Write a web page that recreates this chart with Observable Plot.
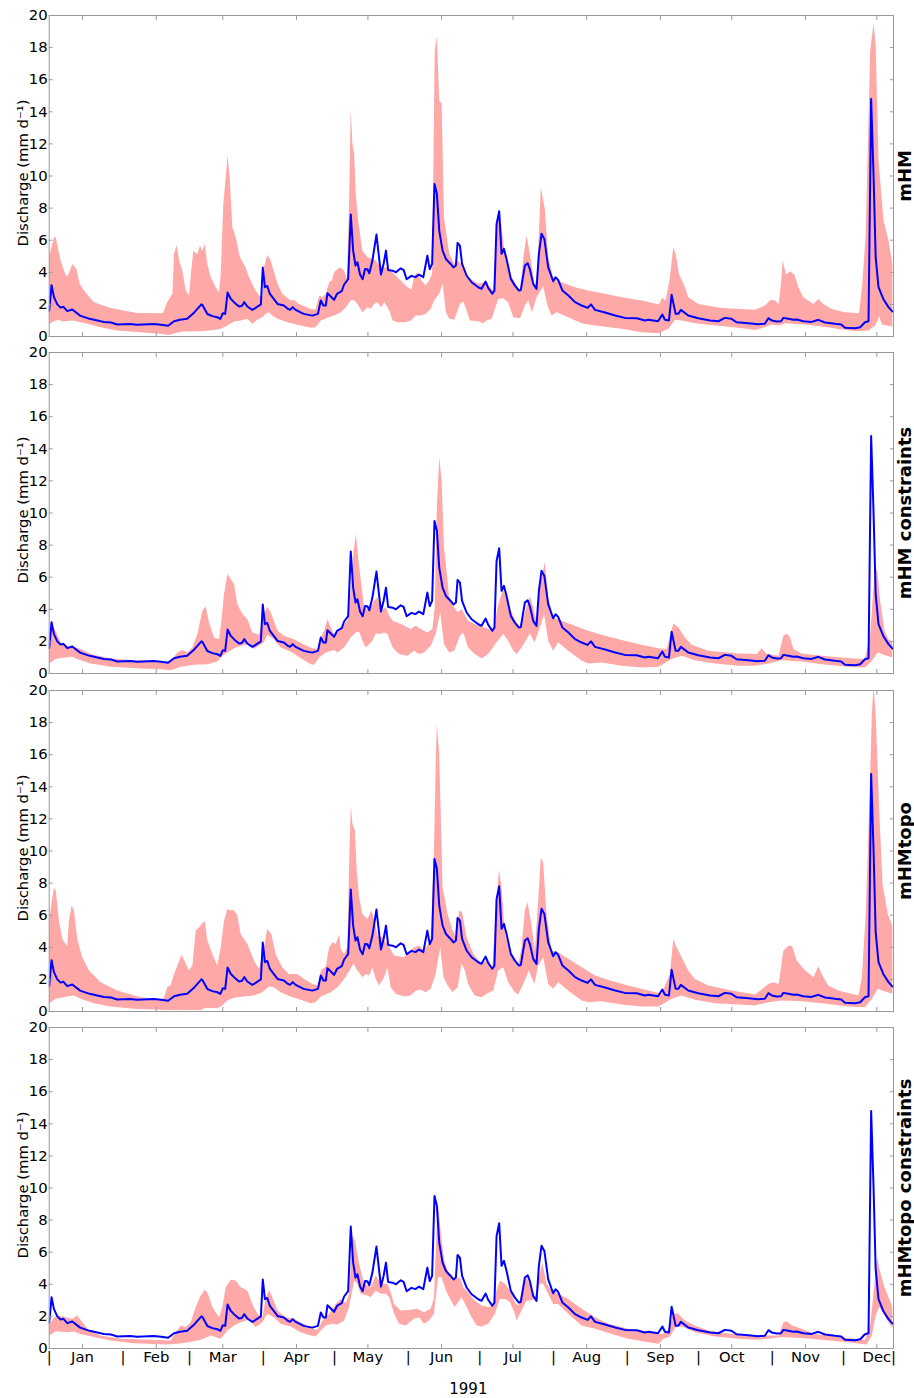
<!DOCTYPE html>
<html><head><meta charset="utf-8">
<script src="https://cdn.jsdelivr.net/npm/d3@7"></script>
<script src="https://cdn.jsdelivr.net/npm/@observablehq/plot@0.6"></script>
<style>
body{margin:0;background:#fff;}
#chart{position:relative;width:914px;height:1398px;background:#fff;}
#chart svg{position:absolute;left:0;overflow:visible;}
</style></head><body><div id="chart"></div>
<script>
// observed discharge, [day of 1991 (0 = 1 Jan), mm/d]
const observed = [[0,1.6],[1,3.2],[2,2.45],[3.4,2.0],[4.8,1.8],[6,1.85],[7.6,1.58],[9.7,1.68],[13,1.3],[17,1.1],[23,0.9],[26,0.87],[28.6,0.75],[34,0.78],[37,0.73],[44,0.78],[47,0.73],[50,0.67],[52.5,0.95],[55,1.04],[58,1.1],[61,1.5],[64,2.0],[64.5,1.95],[66.5,1.4],[68.6,1.27],[70.7,1.2],[72,1.1],[73,1.45],[74,1.41],[75,2.74],[76.3,2.35],[77.7,2.14],[79.8,1.87],[81,1.9],[82,2.14],[83.3,1.87],[85.4,1.66],[86.8,1.78],[89,2.0],[89.8,4.3],[90.7,3.07],[91.7,3.15],[92.8,2.65],[96,2.03],[98.7,1.93],[100.4,1.72],[101.3,1.66],[102.4,1.83],[103.6,1.66],[107,1.41],[110.6,1.3],[113,1.41],[114.2,2.24],[115.3,1.93],[116.3,1.93],[117,2.7],[118.4,2.49],[119.8,2.28],[121,2.65],[123,2.82],[124,3.24],[125.7,3.57],[126.8,7.6],[127.8,5.35],[128.8,4.42],[129.6,4.63],[130.7,3.86],[131.8,3.57],[132.8,4.2],[133.8,4.19],[134.6,3.94],[135.9,4.73],[137.6,6.35],[139.5,3.86],[140.6,4.52],[141.6,5.35],[142.5,4.15],[144.4,4.1],[145.8,4.0],[147.8,4.25],[149,4.15],[150.3,3.57],[152.3,3.78],[154,3.7],[155.5,3.86],[157.3,3.7],[159,5.04],[160,4.2],[161,4.52],[162,9.5],[163,8.9],[164,6.6],[165.4,5.35],[166.8,4.83],[168.8,4.52],[170,4.3],[171,4.42],[171.7,5.83],[172.7,5.66],[173.6,4.52],[175.5,3.8],[177.6,3.38],[180.4,3.07],[181.8,2.97],[183.5,3.42],[184.6,3.03],[186.3,2.66],[187.2,2.86],[188.1,7.0],[189.2,7.8],[190.2,5.15],[191.2,5.46],[192.3,4.83],[194.1,3.59],[195.8,3.17],[197.5,2.86],[198.3,2.9],[200,4.42],[201.2,4.56],[202.1,4.2],[203.5,3.28],[204.9,2.97],[205.9,5.15],[207,6.4],[208.2,6.08],[209.8,4.32],[211.9,3.44],[212.9,3.69],[214,3.53],[215.8,2.86],[218.3,2.55],[221.1,2.14],[223.9,1.93],[226.4,1.78],[227.8,2.0],[229.5,1.66],[233.7,1.49],[238,1.31],[242,1.16],[247,1.14],[250.5,1.0],[252,1.04],[256,0.95],[257.8,1.37],[258.9,1.04],[260.6,1.0],[261.7,2.6],[263.4,1.41],[264.5,1.41],[265.6,1.66],[268.7,1.31],[272.9,1.14],[277.9,1.0],[281.4,0.95],[284.1,1.16],[286.9,1.1],[289,0.89],[294,0.83],[298,0.77],[300.9,0.79],[302.4,1.14],[303.8,1.0],[305.9,0.93],[307.7,0.95],[308.7,1.16],[310.8,1.1],[312.9,1.04],[314.3,1.06],[317.1,0.95],[320.6,0.91],[323.4,1.04],[326.2,0.87],[330.4,0.79],[333,0.75],[334.6,0.54],[338.9,0.52],[341,0.58],[343,0.89],[344.5,0.95],[345.6,14.8],[346.6,10.1],[347.5,4.94],[348.7,3.07],[350.7,2.34],[352.9,1.83],[354.5,1.56]];

// ensemble envelopes: upper and lower bounds per model set
const mhmHi = [[0,5.0],[2,6.2],[2.8,6.15],[4.8,4.73],[6.9,3.8],[7.9,3.8],[9.7,4.52],[11.5,4.2],[12.8,3.28],[14.6,2.86],[18.8,2.14],[25.8,1.78],[37,1.47],[47.8,1.45],[49.6,2.14],[51.8,2.66],[52.5,5.15],[53.6,5.7],[54.6,4.73],[56,4.1],[57.4,2.86],[58.8,2.55],[59.7,4.1],[60.6,5.35],[61.6,5.2],[62.3,5.15],[63.4,5.66],[64.4,5.35],[65.4,5.8],[66.5,4.52],[67.9,3.69],[70,3.07],[71.4,2.76],[72.1,3.9],[73.2,8.26],[74.2,9.9],[75,11.3],[75.9,9.9],[77,6.8],[78.4,6.2],[80.2,4.94],[82.6,4.3],[84,3.69],[86,3.07],[88.2,2.55],[89.6,2.45],[90.3,4.3],[91.7,5.1],[93.1,4.73],[96,3.28],[98,2.66],[101.5,2.24],[103,2.28],[105,2.03],[110,1.72],[112,1.68],[113.5,2.55],[114.9,2.45],[116.3,2.66],[117.7,3.38],[118.8,3.49],[119.8,4.0],[121.2,4.2],[122.6,4.3],[124,4.1],[125.2,3.59],[126.1,8.46],[126.8,14.2],[127.5,12.0],[128.2,11.4],[128.9,8.9],[129.9,7.2],[131.7,5.35],[133.8,4.94],[135.9,4.83],[137.3,4.73],[139.5,4.3],[142.2,4.3],[145,3.9],[147.8,3.49],[150.6,3.07],[152.3,2.93],[153.4,3.7],[154.8,4.0],[156.5,3.49],[158.3,3.17],[159.7,3.49],[161,3.9],[162.1,17.8],[163,18.7],[164,14.7],[165,14.5],[166,7.4],[168.2,5.15],[170.3,4.52],[171.7,4.73],[173.4,4.52],[176.1,3.69],[180.4,3.28],[183.2,3.38],[186.7,2.86],[188.1,6.8],[189.5,7.63],[191.6,5.15],[194.4,3.69],[198,2.86],[199.4,4.94],[200.7,6.29],[202.1,5.15],[204.2,3.07],[205.3,4.32],[206.7,9.3],[208.4,7.95],[209.8,4.94],[211.9,3.69],[215.4,3.38],[221,3.07],[226.6,2.86],[233.7,2.66],[240.7,2.45],[249.1,2.24],[256.4,1.99],[257.8,2.41],[259.2,2.24],[261,3.69],[262.4,5.56],[263.4,5.15],[264.8,3.9],[267.3,3.07],[268.7,2.45],[272.9,2.03],[282.8,1.78],[296.8,1.66],[301,1.93],[303.2,2.28],[305.3,2.24],[306.7,2.03],[307.7,3.28],[308.4,4.73],[309.8,3.86],[311.5,4.07],[313.3,3.86],[315,3.07],[317.1,2.45],[321.3,2.03],[323.4,2.34],[325.5,2.03],[329,1.72],[334.6,1.51],[340.5,1.45],[341.9,3.28],[343.3,6.39],[345.2,17.8],[346.6,19.5],[347.5,18.2],[348.7,10.95],[350.8,7.22],[352.9,5.98],[354.5,4.52]];
const mhmLo = [[0,0.79],[2,0.95],[4,1.04],[5.5,0.93],[9.7,1.0],[11.8,0.93],[16,0.79],[21.6,0.58],[28.6,0.37],[38.4,0.27],[46.8,0.17],[50.4,0.1],[53.9,0.25],[56,0.31],[63.7,0.33],[69.3,0.41],[72.1,0.48],[74.9,0.68],[77.7,0.93],[80.5,1.0],[83.3,1.1],[85.4,0.79],[87.5,1.04],[89.6,1.2],[91,1.41],[92.4,1.51],[93.8,1.31],[96,1.1],[100.1,0.89],[105.7,0.68],[110,0.54],[112,0.58],[114.2,1.0],[117.7,1.2],[119.8,1.31],[122.6,1.51],[124.7,1.83],[126.8,2.24],[128.2,2.28],[129.6,2.03],[131.7,1.51],[133.8,1.83],[135.2,1.72],[136.6,2.03],[138,2.14],[139.5,1.83],[140.9,2.14],[143,1.62],[144.4,1.0],[146.5,0.89],[150,0.89],[152.1,1.0],[154.1,1.31],[156.3,1.31],[158.3,1.41],[160.4,1.72],[161.8,2.24],[164,2.66],[165.4,3.28],[166.8,1.51],[168.2,1.1],[170.3,1.04],[172.7,2.03],[174.1,2.18],[175.5,1.62],[176.9,1.0],[180.4,0.95],[182.5,0.83],[183.9,1.0],[186,1.1],[188.8,2.34],[190.9,2.39],[193,2.14],[195.1,1.2],[198,1.14],[200,1.93],[201.4,2.24],[203,1.51],[204.9,2.45],[207.7,3.11],[209.5,1.93],[211.2,1.31],[213.3,1.51],[218.2,1.2],[223.9,0.83],[229.5,0.68],[240.7,0.48],[249.1,0.27],[256.2,0.21],[260.4,0.48],[263.1,1.04],[265.9,1.0],[271.5,0.83],[280,0.68],[289.8,0.54],[296.8,0.41],[301,0.58],[303.8,0.75],[306.7,0.68],[309.4,0.83],[317.8,0.75],[324.8,0.62],[338.9,0.33],[344.5,0.37],[347.3,0.68],[349,1.24],[350.1,0.75],[354.5,0.62]];

const conHi = [[0,2.46],[1.3,2.98],[2.7,2.66],[4.8,1.94],[7.6,1.73],[9.7,1.66],[13.2,1.52],[17.4,1.21],[25.8,0.94],[35.6,0.83],[49.6,0.75],[51.8,0.9],[53.9,1.31],[56,1.46],[58,1.31],[60.2,1.62],[62.3,2.46],[64.4,3.91],[65.8,4.18],[67.2,3.18],[69.3,2.25],[71.4,2.14],[72.4,3.29],[73.5,4.95],[74.9,6.2],[76.3,5.89],[77.7,5.58],[79.1,4.33],[81.2,3.7],[83.3,3.39],[85.4,2.56],[88.2,2.41],[90.3,3.7],[91.7,4.18],[93.1,3.81],[96,2.66],[98.7,2.35],[102.9,2.14],[107.2,1.79],[110.7,1.58],[113,1.52],[114.2,2.25],[115.6,2.66],[117,3.39],[118.4,2.87],[119.8,2.46],[122.6,2.87],[125.4,3.29],[126.8,5.16],[127.9,7.45],[128.9,8.7],[129.9,7.24],[131,5.79],[132.4,4.12],[134.5,3.91],[136.6,4.54],[138,4.75],[139.4,3.91],[141.5,4.12],[143,3.6],[144.4,3.29],[147.8,3.08],[152,2.77],[154.1,2.98],[156.2,2.77],[159,2.56],[161.1,2.77],[162.1,4.12],[163,10.4],[164,13.5],[165,12.0],[166,7.87],[168.2,4.75],[170.3,4.12],[171.7,3.81],[173.4,4.0],[176.1,3.29],[180.4,2.98],[183.2,2.87],[186.7,2.66],[188.8,4.33],[190.9,5.27],[193,4.33],[195.8,3.29],[198,2.87],[199.4,3.5],[202.1,4.79],[203.5,4.12],[204.9,3.18],[206.7,5.79],[208.4,6.93],[209.8,4.75],[211.9,3.5],[215.4,3.29],[221,2.98],[226.6,2.66],[233.7,2.35],[240.7,2.08],[249.1,1.79],[256.2,1.58],[259.6,1.52],[262.4,3.12],[264.6,2.87],[267.3,2.25],[270.1,1.79],[277.1,1.42],[289.8,1.25],[297.4,1.21],[299.6,1.58],[301.7,1.21],[306.6,1.1],[308.7,2.35],[310.1,2.5],[311.5,2.25],[312.9,1.52],[316.4,1.25],[324.8,1.1],[336,0.96],[343,0.9],[345.2,2.46],[347,6.2],[348.1,6.51],[349.4,4.54],[351.2,2.66],[352.9,2.14],[354.5,1.94]];
const conLo = [[0,0.62],[2.7,0.9],[4.8,0.96],[9.7,1.04],[11.8,0.9],[17.4,0.62],[25.8,0.42],[38.4,0.31],[46.8,0.27],[51,0.21],[55.3,0.42],[60.9,0.54],[66.5,0.58],[70.7,0.75],[72.8,1.1],[74.9,1.31],[77.7,1.58],[81.9,1.79],[84,1.83],[86.1,1.52],[88.2,1.73],[90.3,1.94],[91.7,2.41],[94.5,2.14],[97.3,1.62],[101.5,1.37],[105.7,0.96],[110,0.58],[111.4,0.54],[113.5,1.0],[116.3,1.31],[119.8,1.46],[121.2,1.31],[124,1.62],[126.8,2.25],[128.9,2.56],[130.3,2.62],[131.7,2.04],[133.1,1.62],[134.5,1.83],[135.9,2.04],[137.3,2.5],[139.5,2.46],[140.8,2.56],[142.2,2.46],[144.4,1.62],[147.1,1.21],[150.6,1.1],[153.4,1.42],[155.5,1.21],[157.6,1.31],[160.4,1.73],[162.5,2.46],[164.4,3.81],[166,1.83],[168.2,1.31],[170.3,1.42],[172.7,2.35],[174.1,2.56],[176.1,1.62],[178.9,1.21],[181.8,0.94],[184.6,1.21],[188.1,1.94],[190.9,2.46],[193,2.04],[195.1,1.42],[196.6,1.21],[198.6,1.62],[200.7,2.14],[202.1,2.5],[204,1.94],[205.6,2.56],[208.1,3.7],[209.8,2.04],[211.9,1.42],[214,1.94],[218.2,1.42],[223.9,0.79],[226.6,0.62],[232.3,0.69],[240.7,0.48],[249.1,0.37],[256.2,0.42],[261.7,0.9],[265.9,1.1],[271.5,0.83],[280,0.62],[289.8,0.48],[296.8,0.48],[302.4,0.62],[308,0.83],[316.4,0.75],[324.8,0.58],[336,0.42],[343,0.37],[345.9,0.79],[348.4,1.31],[350.8,1.17],[354.5,1.0]];

const topoHi = [[0,5.66],[1.3,7.1],[2,7.7],[2.8,7.53],[4.1,5.66],[5.5,4.52],[6.9,4.21],[7.6,4.1],[8.3,5.66],[9.4,6.6],[10.4,6.29],[11.8,4.52],[13.9,3.38],[16.7,2.55],[21.6,1.83],[28.6,1.31],[38.4,0.89],[48,0.73],[49.6,1.51],[51,1.62],[52.5,2.34],[53.9,2.86],[55.7,3.55],[57.4,2.97],[58.8,2.55],[60.2,2.86],[61.6,5.04],[63,5.25],[64.4,5.5],[65.4,5.62],[66.5,4.42],[68.6,3.59],[70.7,2.86],[72.1,4.0],[73.5,5.66],[74.9,6.39],[76.3,6.29],[77.7,6.33],[79.1,5.98],[80.5,4.83],[83.3,4.21],[86.1,3.17],[88.2,2.66],[90.3,4.0],[91.7,5.15],[93.4,4.83],[95.2,3.59],[98,2.76],[100.8,2.34],[104.3,2.34],[107.2,2.03],[110.7,1.72],[113,1.62],[114.2,2.55],[116.3,2.8],[117.7,4.0],[119.1,4.32],[120.5,4.21],[121.9,4.83],[122.6,3.9],[124,3.59],[125.4,4.0],[126.1,9.2],[126.8,12.8],[127.5,11.7],[128.5,11.3],[129.3,8.78],[130.3,7.12],[131.7,6.08],[133.8,5.77],[135.5,6.29],[136.6,5.77],[138,4.73],[140.1,4.63],[142.2,4.21],[145,3.49],[149.2,3.38],[153.4,4.0],[155.5,4.1],[157.6,3.8],[160.4,4.42],[161.8,10.2],[162.6,16.0],[163,17.9],[164,16.0],[165.4,7.74],[167.5,6.08],[169.6,5.04],[171,4.63],[172.4,6.29],[173.6,6.18],[175.5,4.63],[178.3,3.59],[181.8,2.97],[183.9,3.17],[186.3,2.66],[187.7,6.08],[189.1,8.88],[190.2,7.74],[191.6,4.83],[194.4,3.38],[197.2,2.86],[198.6,4.0],[200,6.29],[201.1,6.8],[202.5,5.66],[204.2,3.8],[205.6,6.91],[206.7,9.6],[207.7,9.29],[209.1,6.08],[211.2,3.8],[214,3.69],[218.2,3.28],[223.9,2.76],[229.5,2.24],[235.1,1.97],[243.5,1.62],[251.9,1.31],[257.5,1.1],[261,2.34],[262.4,4.52],[263.8,4.0],[265.9,3.38],[268.7,2.55],[271.5,2.03],[277.1,1.62],[286.9,1.31],[296.8,1.06],[302.4,1.72],[304.5,1.83],[306.7,1.72],[308.7,3.8],[310.8,4.1],[312.3,4.1],[314.3,3.17],[317.1,2.66],[321.3,2.14],[323.4,2.8],[325.5,2.14],[327.6,1.62],[331.8,1.31],[340.3,1.0],[341.7,2.14],[343.3,6.08],[344.7,12.3],[345.9,18.5],[346.6,20.3],[347.5,18.5],[349,12.5],[350.4,7.95],[352.6,6.08],[354.5,5.35]];
const topoLo = [[0,0.52],[2.7,0.79],[7.6,0.93],[10.4,1.0],[13.2,0.79],[18.8,0.52],[25.8,0.31],[35.6,0.17],[49.6,0.1],[63.7,0.1],[65.8,0.23],[70.7,0.21],[72.8,0.37],[74.9,0.68],[77.7,0.85],[81.9,0.93],[86.1,1.0],[89.6,1.2],[92.4,1.56],[94.5,1.51],[97.3,1.2],[101.5,0.93],[105.7,0.73],[110,0.52],[112,0.58],[114.2,0.93],[118.4,1.2],[121.2,1.51],[124,2.03],[126.1,2.51],[127.9,2.97],[129.6,2.55],[131.7,2.14],[133.1,2.34],[134.5,2.24],[135.9,2.72],[137.3,2.03],[138.7,1.62],[140.8,2.14],[142.2,2.76],[143.6,1.51],[145.7,1.1],[149.2,0.93],[152,1.0],[154.1,1.31],[156.2,1.35],[158.3,1.2],[160.4,1.41],[162.5,2.34],[164.4,4.0],[165.8,2.14],[167.5,1.62],[169.6,1.2],[171.7,1.51],[173.4,2.97],[174.8,2.55],[176.1,1.72],[178.9,1.0],[181.8,0.89],[183.9,1.1],[186.7,1.31],[188.8,2.55],[190.9,2.76],[193,1.83],[195.8,1.2],[197.2,1.06],[199.3,1.72],[201.7,2.55],[204,1.72],[205.6,2.86],[207.7,3.38],[209.8,1.72],[211.9,1.41],[214,1.83],[218.2,1.31],[223.9,0.68],[226.6,0.58],[232.3,0.64],[240.7,0.44],[249.1,0.31],[256.2,0.31],[261.7,0.79],[265.9,1.0],[271.5,0.73],[280,0.52],[289.8,0.44],[296.8,0.37],[302.4,0.58],[308,0.68],[316.4,0.64],[324.8,0.52],[336,0.31],[343,0.27],[345.9,0.79],[348.4,1.41],[350.8,1.27],[354.5,1.1]];

const topoConHi = [[0,1.43],[2,1.95],[4.1,2.06],[6.9,1.95],[9.7,1.85],[11.8,2.06],[13.9,1.64],[16.7,1.12],[21.6,0.81],[30,0.6],[42.6,0.54],[51,0.5],[53.2,1.02],[55.3,1.43],[57.4,1.33],[59.5,1.64],[61.6,2.58],[63.7,3.3],[65.4,3.66],[66.5,3.51],[68.6,2.58],[71.4,1.95],[72.8,2.58],[74.2,3.82],[76.3,4.28],[78.4,4.24],[80.5,3.82],[83.3,3.61],[85.4,2.78],[87.5,2.16],[89.6,1.95],[91,3.09],[92.4,3.66],[93.8,3.2],[96,2.37],[99.4,1.95],[102.9,1.85],[106.5,1.58],[110.7,1.23],[112.8,1.16],[114.9,1.74],[117.7,2.16],[120.5,2.78],[122.6,3.09],[124.7,2.82],[126.1,3.41],[127.5,7.04],[128.5,6.73],[130.3,5.28],[132.4,4.03],[135.2,3.82],[137.3,4.55],[139.5,4.03],[142.2,4.03],[143.6,3.51],[145,2.78],[147.8,2.37],[152,2.41],[154.8,2.47],[157.6,2.26],[160.4,2.47],[161.8,3.2],[163,7.97],[163.7,8.7],[164.7,7.14],[166.1,5.48],[168.2,4.55],[170.3,4.28],[172.7,4.44],[174.1,3.82],[176.1,3.51],[178.9,2.99],[181.8,2.68],[184.6,2.58],[186.7,2.68],[188.1,3.61],[189.5,4.24],[191.6,4.03],[193.7,3.61],[195.8,2.89],[197.2,2.68],[198.6,3.51],[200.7,4.44],[202.1,4.03],[204.2,3.2],[206.3,4.65],[207.3,5.38],[209.1,4.03],[211.2,3.61],[214,3.41],[218.2,3.09],[223.9,2.47],[229.5,1.95],[235.1,1.54],[243.5,1.23],[251.9,1.02],[257.5,0.91],[260.3,1.12],[262.4,2.16],[264.2,2.2],[267.3,1.74],[271.5,1.43],[277.1,1.12],[286.9,0.91],[296.8,0.81],[306.7,0.81],[308.7,1.64],[310.1,1.7],[312.3,1.43],[316.4,1.23],[322,0.91],[331.8,0.71],[343,0.54],[345.2,1.43],[347,4.03],[348.1,5.69],[349.4,4.76],[351.2,3.82],[352.9,3.2],[354.5,2.58]];
const topoConLo = [[0,0.81],[2.7,1.08],[7.6,1.02],[10.4,1.06],[13.2,0.91],[18.8,0.71],[25.8,0.5],[35.6,0.33],[49.6,0.25],[53.9,0.29],[58,0.37],[63.7,0.54],[67.9,0.81],[72.1,0.6],[74.9,1.12],[77.7,1.43],[80.5,1.64],[84,1.79],[86.8,1.33],[89.6,1.64],[91.7,2.16],[94.5,1.95],[97.3,1.54],[101.5,1.37],[105.7,1.02],[110,0.81],[112,0.75],[114.2,1.12],[116.3,1.43],[119.1,1.54],[121.2,1.5],[124,1.74],[126.1,2.58],[128.2,4.24],[129.6,4.03],[131,3.41],[133.8,3.3],[135.2,3.2],[137.3,3.61],[139.5,3.41],[141.5,3.41],[143,3.2],[145,2.16],[147.1,1.54],[149.9,1.43],[153.4,1.85],[155.5,1.95],[157.6,1.54],[159.7,1.74],[161.8,2.16],[163.5,4.44],[164.9,4.44],[166.8,3.61],[168.9,2.99],[170.5,2.58],[173.4,3.2],[175.5,2.58],[177.6,1.95],[179.7,1.43],[181.8,1.37],[184.6,1.54],[187.4,2.16],[189.5,3.09],[191.6,3.09],[193.7,2.89],[195.8,2.16],[196.5,1.74],[198.6,2.37],[200.7,2.99],[202.8,2.99],[204.9,3.2],[206.3,4.03],[207.7,4.03],[209.8,3.41],[211.9,2.78],[214,2.78],[218.2,2.16],[223.9,1.43],[229.5,1.23],[236.5,0.91],[243.5,0.6],[251.9,0.39],[256.2,0.29],[258.3,0.6],[261,0.75],[263.8,1.43],[267.3,1.29],[271.5,1.02],[280,0.75],[289.8,0.6],[296.8,0.54],[302.4,0.6],[308,0.71],[316.4,0.66],[324.8,0.54],[336,0.39],[343.7,0.25],[345.9,0.81],[347.5,2.06],[349,2.58],[350.8,2.16],[354.5,1.23]];

const panelNames = ["mHM", "mHM constraints", "mHMtopo", "mHMtopo constraints"];
const panelHi = [mhmHi, conHi, topoHi, topoConHi];
const panelLo = [mhmLo, conLo, topoLo, topoConLo];
const monthStarts = [0, 31, 59, 90, 120, 151, 181, 212, 243, 273, 304, 334, 355];
const monthMids = [14, 45, 73, 104, 134, 165, 195, 226, 257, 287, 318, 348];
const monthLabels = ["Jan","Feb","Mar","Apr","May","Jun","Jul","Aug","Sep","Oct","Nov","Dec"];
const yTicks = [0, 2, 4, 6, 8, 10, 12, 14, 16, 18, 20];
const yLabel = "Discharge (mm d\u207B\u00B9)";
const xLabel = "1991";

const chart = document.getElementById("chart");
const font = "DejaVu Sans";
const grey = "#9a9a9a";
const fs = 14.8;

panelNames.forEach((name, i) => {
  const last = i === panelNames.length - 1;
  const band = panelHi[i].map(([d, v]) => ({d, v}))
    .concat(panelLo[i].slice().reverse().map(([d, v]) => ({d, v})));
  const marks = [
    Plot.line(band, {x: "d", y: "v", fill: "#ffa8a8", stroke: "none", curve: "linear", clip: true}),
    Plot.line(observed, {x: d => d[0], y: d => d[1], stroke: "#0000ff", strokeWidth: 2, clip: true}),
    Plot.frame({stroke: grey, strokeWidth: 1}),
    // inward ticks on all four sides
    Plot.axisY({anchor: "left", ticks: yTicks, tickSize: 4, dx: 4, tickFormat: () => "", label: null, stroke: grey}),
    Plot.axisY({anchor: "right", ticks: yTicks, tickSize: 4, dx: -4, tickFormat: () => "", label: null, stroke: grey}),
    Plot.axisX({anchor: "bottom", ticks: monthMids, tickSize: 4, dy: -4, tickFormat: () => "", label: null, stroke: grey}),
    Plot.axisX({anchor: "top", ticks: monthMids, tickSize: 4, dy: 4, tickFormat: () => "", label: null, stroke: grey}),
    // y tick labels
    Plot.axisY({anchor: "left", ticks: yTicks, tickSize: 0, tickPadding: 1.5, tickFormat: d => String(d), label: null, fontSize: fs, fill: "#000"}),
    Plot.text([yLabel], {text: d => d, frameAnchor: "left", rotate: -90, dx: -21, dy: -3, lineAnchor: "bottom", textAnchor: "middle", fontSize: fs, fill: "#000"}),
    Plot.text([name], {text: d => d, frameAnchor: "right", rotate: -90, dx: 17, lineAnchor: "bottom", textAnchor: "middle", fontSize: 18, fontWeight: "bold", fill: "#000"})
  ];
  if (last) {
    marks.push(
      Plot.axisX({anchor: "bottom", ticks: monthMids, tickSize: 0, tickPadding: 3, tickFormat: d => monthLabels[monthMids.indexOf(d)], label: null, fontSize: fs, fill: "#000"}),
      Plot.axisX({anchor: "bottom", ticks: monthStarts, tickSize: 0, tickPadding: 3, tickFormat: () => "|", label: null, fontSize: fs, fill: "#000"}),
      Plot.text([xLabel], {text: d => d, frameAnchor: "bottom", dy: 45.5, dx: -3, lineAnchor: "bottom", textAnchor: "middle", fontSize: 15, fill: "#000"})
    );
  }
  const svg = Plot.plot({
    width: 914,
    height: last ? 386 : 337,
    marginTop: 15,
    marginBottom: last ? 50 : 1,
    marginLeft: 48.7,
    marginRight: 21,
    x: {type: "linear", domain: [0, 355], axis: null},
    y: {type: "linear", domain: [0, 20], axis: null},
    style: {fontFamily: font, fontSize: "14.8px", background: "transparent", overflow: "visible"},
    marks
  });
  svg.style.top = Math.round(i * 337.4) + "px";
  chart.appendChild(svg);
});
</script>
</body></html>
